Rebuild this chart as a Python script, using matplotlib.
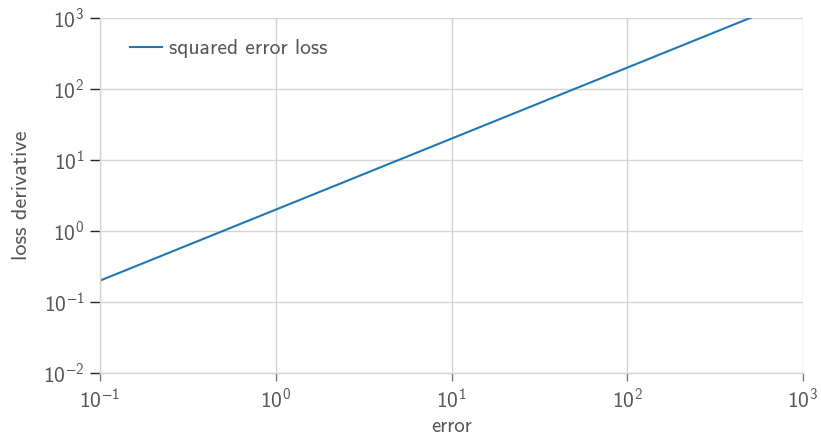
import numpy as np
import matplotlib
matplotlib.use("Agg")
import matplotlib.pyplot as plt
from matplotlib.ticker import LogLocator, NullLocator, FuncFormatter

plt.rcParams["font.family"] = ["cmss10", "DejaVu Sans"]
plt.rcParams["mathtext.fontset"] = "custom"
plt.rcParams["mathtext.rm"] = "cmss10"
plt.rcParams["mathtext.sf"] = "cmss10"

# squared error loss: d/de (e^2) = 2e
error = [0.1, 1, 10, 100, 1000]
loss_derivative = [0.2, 2, 20, 200, 2000]

TEXT = "#555555"
GRID = "#d4d4d4"


def pow10(v, pos):
    return r"$\mathregular{10^{%d}}$" % int(round(np.log10(v)))


fig = plt.figure(figsize=(8.21, 4.36), dpi=100)
ax = fig.add_axes([100 / 821, 1 - 373 / 436, 703 / 821, 355 / 436])

ax.plot(error, loss_derivative, color="#1f77b4", lw=1.5, label="squared error loss")

ax.set_xscale("log")
ax.set_yscale("log")
ax.set_xlim(0.1, 1000)
ax.set_ylim(0.01, 1000)
for axis in [ax.xaxis, ax.yaxis]:
    axis.set_major_locator(LogLocator(base=10, numticks=10))
    axis.set_minor_locator(NullLocator())
    axis.set_major_formatter(FuncFormatter(pow10))

ax.grid(True, color=GRID, lw=1)
ax.set_axisbelow(True)
for side in ["top", "right"]:
    ax.spines[side].set_visible(False)
for side in ["left", "bottom"]:
    ax.spines[side].set_color(GRID)
    ax.spines[side].set_linewidth(1)

ax.tick_params(axis="x", colors="#777777", labelcolor=TEXT, labelsize=15.5,
               length=6, width=1, pad=5)
ax.tick_params(axis="y", colors="#222222", labelcolor=TEXT, labelsize=15.5,
               length=7, width=1, pad=4)

ax.set_xlabel("error", color=TEXT, fontsize=15, labelpad=3)
ax.set_ylabel("loss derivative", color=TEXT, fontsize=16, labelpad=9)

leg = ax.legend(loc="upper left", frameon=False, fontsize=15.5,
                handlelength=1.5, handletextpad=0.3,
                bbox_to_anchor=(0.015, 0.995))
for t in leg.get_texts():
    t.set_color(TEXT)

fig.savefig("out.png", dpi=100)
